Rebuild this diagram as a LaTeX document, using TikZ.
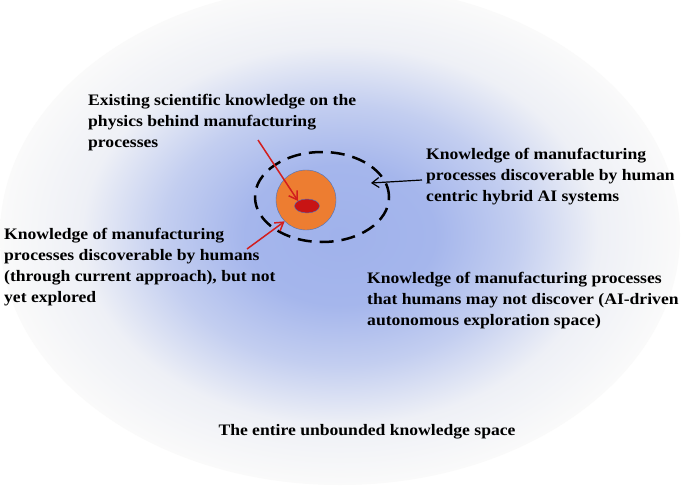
\documentclass[tikz,border=0pt]{standalone}
\usepackage{fontspec}
\setmainfont{Liberation Serif}[FakeStretch=1.1]
\usetikzlibrary{shapes.geometric,arrows.meta}
\pgfdeclareradialshading{cloud}{\pgfpoint{0bp}{0bp}}{%
  color(0bp)=(rgb,255:red,160;green,178;blue,235);
  color(7bp)=(rgb,255:red,165;green,182;blue,236);
  color(13bp)=(rgb,255:red,195;green,206;blue,240);
  color(19bp)=(rgb,255:red,238;green,240;blue,246);
  color(25bp)=(rgb,255:red,250;green,250;blue,250);
  color(50bp)=(rgb,255:red,255;green,255;blue,255)}
\begin{document}
\begin{tikzpicture}[x=1pt,y=-1pt,
  lbl/.style={font=\bfseries\fontsize{16}{21}\selectfont,align=left,anchor=north west,inner sep=0pt},
  redarr/.style={draw={rgb,255:red,210;green,30;blue,30},line width=1.5pt,-{Straight Barb[length=8pt,width=10pt]}}]
\useasboundingbox (0,0) rectangle (685,487);
\fill[white] (0,0) rectangle (685,487);
\shade[shading=cloud] (340,235) ellipse (340 and 250);
\node[ellipse,draw=black,dash pattern=on 14pt off 8pt,line width=2.5pt,minimum width=134pt,minimum height=90pt] (dash) at (322,197) {};
\node[circle,fill={rgb,255:red,237;green,125;blue,49},draw={rgb,255:red,68;green,114;blue,196},minimum size=60pt,inner sep=0pt] (orange) at (306,200) {};
\node[ellipse,fill={rgb,255:red,200;green,20;blue,20},draw={rgb,255:red,68;green,114;blue,196},minimum width=25pt,minimum height=14pt,inner sep=0pt] (red) at (307,206) {};
\node[lbl] (t1) at (88,94) {Existing scientific knowledge on the\\physics behind manufacturing\\processes};
\node[lbl] (t2) at (426,148) {Knowledge of manufacturing\\processes discoverable by human\\centric hybrid AI systems};
\node[lbl] (t3) at (4,228) {Knowledge of manufacturing\\processes discoverable by humans\\(through current approach), but not\\yet explored};
\node[lbl] (t4) at (367,272) {Knowledge of manufacturing processes\\that humans may not discover (AI-driven\\autonomous exploration space)};
\node[lbl,anchor=north] (t5) at (367,424) {The entire unbounded knowledge space};
\coordinate (a1) at (258,140);
\coordinate (a2) at (247,249);
\coordinate (a3) at (422,180);
\draw[redarr] (a1) -- (red.north west);
\draw[redarr] (a2) -- (orange.225);
\draw[line width=1.2pt,-{Straight Barb[length=7pt,width=10pt]}] (a3) -- (371,183);
\end{tikzpicture}
\end{document}
